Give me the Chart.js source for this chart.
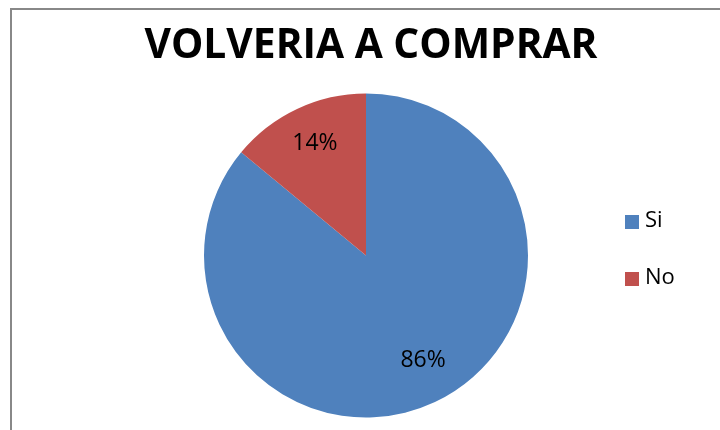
<!DOCTYPE html>
<html>
<head>
<meta charset="utf-8">
<script src="https://cdn.jsdelivr.net/npm/chart.js@4.4.1/dist/chart.umd.min.js"></script>
<style>
  html, body { margin: 0; padding: 0; background: #fff; }
  #wrap { width: 720px; height: 430px; position: relative; }
</style>
</head>
<body>
<div id="wrap"><canvas id="chart" width="720" height="430"></canvas></div>
<script>
// chart data
const title = 'VOLVERIA A COMPRAR';
const categories = ['Si', 'No'];
const values = [86, 14];
const colors = ['#4F81BD', '#C0504D'];

// frame, title, legend and percent labels drawn on top of the pie
const decorations = {
    id: 'decorations',
    beforeDraw(chart) {
        const ctx = chart.ctx;
        ctx.save();
        ctx.strokeStyle = '#888888';
        ctx.lineWidth = 2;
        ctx.strokeRect(11, 9, 760, 480);
        ctx.restore();
    },
    afterDraw(chart) {
        const ctx = chart.ctx;
        ctx.save();

        // title, squeezed to the width of the original
        ctx.font = 'bold 42px "Open Sans"';
        ctx.fillStyle = '#000';
        ctx.textBaseline = 'alphabetic';
        const tw = ctx.measureText(title).width;
        const sx = Math.min(1, 453 / tw);
        ctx.translate(371, 58);
        ctx.scale(sx, 1);
        ctx.textAlign = 'center';
        ctx.fillText(title, 0, 0);
        ctx.restore();

        // legend
        ctx.save();
        ctx.font = '22px "Open Sans"';
        ctx.textBaseline = 'middle';
        ctx.textAlign = 'left';
        categories.forEach((c, i) => {
            const y = 222 + i * 57;
            ctx.fillStyle = colors[i];
            ctx.fillRect(625, y - 7, 14, 14);
            ctx.fillStyle = '#000';
            ctx.fillText(c, 645, y - 1);
        });

        // percent labels inside the slices
        const total = values.reduce((a, b) => a + b, 0);
        const meta = chart.getDatasetMeta(0);
        ctx.font = '23px "Open Sans"';
        ctx.textAlign = 'center';
        ctx.fillStyle = '#000';
        meta.data.forEach((arc, i) => {
            const mid = (arc.startAngle + arc.endAngle) / 2;
            const r = arc.outerRadius * 0.74;
            const x = arc.x + Math.cos(mid) * r;
            const y = arc.y + Math.sin(mid) * r;
            ctx.fillText(Math.round(values[i] / total * 100) + '%', x + (i === 0 ? 6 : 0), y - 4);
        });
        ctx.restore();
    }
};

new Chart(document.getElementById('chart'), {
    type: 'pie',
    data: {
        labels: categories,
        datasets: [{
            data: values,
            backgroundColor: colors,
            borderWidth: 0
        }]
    },
    options: {
        responsive: false,
        animation: false,
        layout: {
            padding: { top: 93, bottom: 12, left: 204, right: 192 }
        },
        plugins: {
            legend: { display: false },
            tooltip: { enabled: false }
        }
    },
    plugins: [decorations]
});
</script>
</body>
</html>
